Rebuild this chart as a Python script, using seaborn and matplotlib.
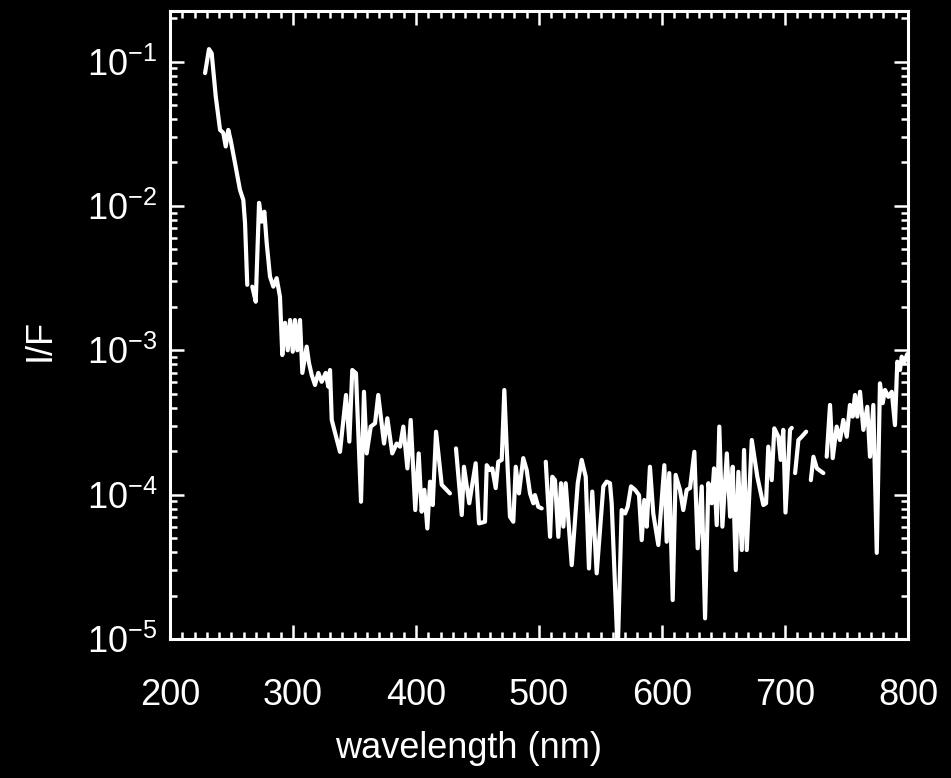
import numpy as np
import pandas as pd
import matplotlib
matplotlib.use("Agg")
import matplotlib.pyplot as plt
from matplotlib.ticker import MultipleLocator, LogLocator, NullFormatter
import seaborn as sns

nan = np.nan

wavelength = [
    228.5, 231.7, 233.9, 237.2, 240.7, 243.3, 245.3, 247.4, 249.3, 252.8,
    256.9, 259.6, 261.0, 262.8, 264.5, 266.9, 269.7, 272.4, 274.6, 276.7,
    278.6, 281.3, 284.0, 286.7, 289.4, 291.3, 293.5, 295.7, 297.6, 299.8,
    301.6, 303.5, 305.7, 307.6, 311.1, 313.0, 315.2, 317.9, 320.6, 323.3,
    326.6, 328.7, 330.1, 331.5, 338.2, 343.1, 345.8, 348.2, 351.2, 355.3,
    357.7, 359.9, 363.2, 366.7, 369.3, 374.0, 376.7, 380.7, 384.3, 387.0,
    389.7, 393.0, 395.7, 399.4, 402.2, 404.6, 406.8, 409.2, 411.4, 413.6,
    416.3, 420.9, 427.6, 430.0, 432.5, 437.2, 439.0, 443.3, 448.5, 451.2,
    456.1, 457.5, 460.2, 462.0, 464.8, 466.9, 469.7, 471.8, 473.7, 476.4,
    479.1, 481.1, 483.7, 487.2, 490.0, 492.7, 495.4, 496.7, 499.4, 502.2,
    504.0, 505.5, 509.0, 510.8, 513.0, 515.7, 517.9, 519.8, 521.7, 526.6,
    531.5, 534.7, 538.0, 540.6, 543.3, 546.9, 552.3, 555.0, 557.7, 559.1,
    564.0, 567.2, 570.0, 572.1, 574.8, 578.1, 581.3, 583.5, 585.6, 587.6,
    590.2, 592.9, 597.0, 601.9, 603.8, 605.9, 608.7, 611.1, 614.6, 617.3,
    620.1, 622.8, 626.3, 629.0, 632.3, 635.0, 637.7, 640.4, 642.3, 644.5,
    646.6, 649.1, 652.7, 655.4, 657.5, 660.0, 662.1, 664.9, 666.7, 668.9,
    673.0, 677.5, 682.4, 684.6, 686.4, 689.2, 691.3, 694.6, 696.5, 698.6,
    700.4, 704.1, 705.5, 707.0, 708.2, 710.9, 713.6, 717.2, 719.0, 721.0,
    723.1, 725.9, 731.2, 732.6, 733.9, 736.6, 738.8, 742.0, 744.7, 747.4,
    750.2, 752.8, 755.0, 756.9, 758.8, 761.0, 763.7, 766.9, 769.1, 771.8,
    774.6, 777.2, 779.4, 781.3, 784.0, 786.8, 789.4, 791.3, 793.5, 794.9,
    796.8, 799.3,
]

i_over_f = [
    0.0832, 0.122, 0.114, 0.0572, 0.0336, 0.0321, 0.0258, 0.0336, 0.0286, 0.0199,
    0.0129, 0.0110, 0.00762, 0.00284, nan, 0.00276, 0.00217, 0.0105, 0.00778, 0.00912,
    0.00555, 0.00324, 0.00276, 0.00316, 0.00235, 0.000927, 0.00155, 0.00100, 0.00162, 0.000977,
    0.00162, 0.00100, 0.00162, 0.000697, 0.00106, 0.000817, 0.000675, 0.000575, 0.000697, 0.000605,
    0.000697, 0.000560, 0.000730, 0.000329, 0.000198, 0.000490, 0.000233, 0.000730, 0.000693, 0.0000893,
    0.000516, 0.000193, 0.000296, 0.000312, 0.000490, 0.000226, 0.000338, 0.000193, 0.000226, 0.000215,
    0.000296, 0.000152, 0.000329, 0.0000782, 0.000193, 0.0000762, 0.000108, 0.0000583, 0.000123, 0.0000847,
    0.000273, 0.000117, 0.000102, nan, 0.000209, 0.0000723, 0.000156, 0.0000871, 0.000165, 0.0000632,
    0.0000649, 0.000160, 0.000148, 0.000152, 0.000111, 0.000169, 0.000174, 0.000531, 0.000215, 0.0000703,
    0.0000649, 0.000156, 0.000102, 0.000179, 0.000148, 0.000102, 0.0000871, 0.0000993, 0.0000824, 0.0000803,
    nan, 0.000169, 0.0000510, 0.000133, 0.000126, 0.0000510, 0.000120, 0.0000600, 0.000120, 0.0000325,
    0.000120, 0.000174, 0.000133, 0.0000308, 0.000105, 0.0000285, 0.000114, 0.000123, 0.000120, 0.0000871,
    0.000008, 0.0000782, 0.0000741, 0.0000824, 0.000114, 0.000108, 0.0000993, 0.0000484, 0.0000918, 0.0000600,
    0.000156, 0.0000741, 0.0000448, 0.000160, 0.0000472, 0.000141, 0.0000186, 0.000137, 0.000108, 0.0000782,
    0.000108, 0.000111, 0.000198, 0.0000425, 0.000114, 0.0000139, 0.000120, 0.0000871, 0.000152, 0.0000615,
    0.000296, 0.0000600, 0.000193, 0.0000703, 0.000156, 0.0000300, 0.000144, 0.0000413, 0.000204, 0.0000413,
    0.000239, 0.000133, 0.0000847, 0.0000871, 0.000215, 0.000126, 0.000288, 0.000252, 0.000174, 0.000281,
    0.0000752, 0.000281, 0.000290, nan, 0.000141, 0.000239, 0.000252, 0.000273, nan, 0.000126,
    0.000183, 0.000152, 0.000141, nan, 0.000183, 0.000418, 0.000179, 0.000296, 0.000239, 0.000329,
    0.000252, 0.000418, 0.000347, 0.000490, 0.000347, 0.000516, 0.000281, 0.000406, 0.000183, 0.000418,
    0.0000395, 0.000590, 0.000430, 0.000531, 0.000476, 0.000516, 0.000303, 0.000834, 0.000730, 0.000903,
    0.000813, 0.000940,
]

x_ticks = [200, 300, 400, 500, 600, 700, 800]
x_tick_labels = ["200", "300", "400", "500", "600", "700", "800"]

df = pd.DataFrame({"wavelength": wavelength, "IF": i_over_f})
df["segment"] = df["IF"].isna().cumsum()
df = df.dropna()

sns.set_theme(style="ticks")
plt.rcParams["font.family"] = ["Liberation Sans", "DejaVu Sans"]
plt.rcParams["mathtext.fontset"] = "custom"
plt.rcParams["mathtext.rm"] = "Liberation Sans"
plt.rcParams["mathtext.it"] = "Liberation Sans:italic"
plt.rcParams["mathtext.bf"] = "Liberation Sans:bold"
plt.rcParams["axes.unicode_minus"] = False

fig = plt.figure(figsize=(9.51, 7.78), dpi=100, facecolor="black")
ax = fig.add_axes([170 / 951, 1 - 639 / 778, (908 - 170) / 951, (639 - 11) / 778])
ax.set_facecolor("black")

sns.lineplot(data=df, x="wavelength", y="IF", units="segment", estimator=None,
             sort=False, color="white", linewidth=3.0, ax=ax, legend=False)

ax.set_yscale("log")
ax.set_xlim(200, 800)
ax.set_ylim(1e-5, 0.224)
ax.set_xticks(x_ticks)
ax.set_xticklabels(x_tick_labels)
ax.xaxis.set_minor_locator(MultipleLocator(10))
ax.yaxis.set_major_locator(LogLocator(base=10, numticks=10))
ax.yaxis.set_minor_locator(LogLocator(base=10, subs=np.arange(2, 10), numticks=20))
ax.yaxis.set_minor_formatter(NullFormatter())

for s in ax.spines.values():
    s.set_color("white")
    s.set_linewidth(2.2)
    s.set_visible(True)

ax.tick_params(which="both", direction="in", top=True, right=True, colors="white",
               width=1.8)
ax.tick_params(which="major", length=10)
ax.tick_params(which="minor", length=5)
ax.tick_params(axis="x", which="major", labelsize=26, pad=28, labelcolor="white")
ax.tick_params(axis="y", which="major", labelsize=26, pad=9, labelcolor="white")

ax.set_xlabel("wavelength (nm)", fontsize=26, color="white", ha="center", va="center")
ax.set_ylabel("I/F", fontsize=26, color="white", ha="center", va="center")
ax.xaxis.set_label_coords(0.405, -0.174)
ax.yaxis.set_label_coords(-0.176, 0.477)

fig.savefig("out.png", dpi=100, facecolor="black")
